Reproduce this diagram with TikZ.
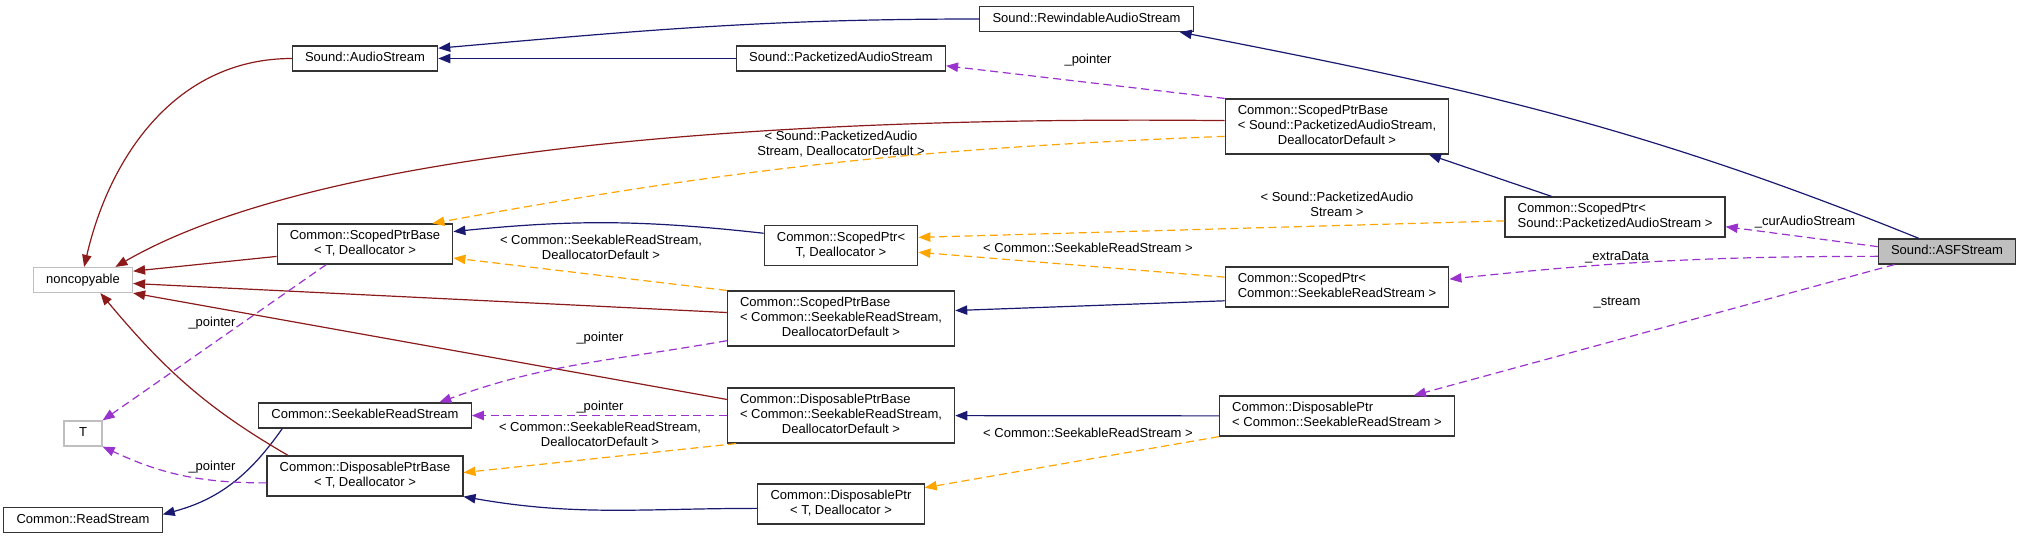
\documentclass[tikz,border=0pt]{standalone}
\usepackage{fontspec}
\setmainfont{Liberation Sans}
\usetikzlibrary{arrows.meta}
\definecolor{bleuNuit}{HTML}{191970}
\definecolor{rougeBrique}{HTML}{8B1A1A}
\definecolor{orchidee}{HTML}{9A32CD}
\definecolor{orangeGabarit}{HTML}{FFA500}
\definecolor{grisClair}{HTML}{BFBFBF}
\newcommand{\classe}[1]{\begin{tabular}{@{}l@{}}#1\end{tabular}}
\newcommand{\derniere}[1]{\multicolumn{1}{@{}c@{}}{#1}}
\begin{document}
\begin{tikzpicture}[x=0.75pt,y=-0.75pt]
		\tikzstyle{fleche}=[->,>={Triangle[length=9pt,width=7pt]},line width=0.9pt]
		\tikzstyle{heritage}=[fleche,bleuNuit]
		\tikzstyle{prive}=[fleche,rougeBrique]
		\tikzstyle{usage}=[fleche,orchidee,dash pattern=on 6pt off 3.5pt]
		\tikzstyle{gabarit}=[fleche,orangeGabarit,dash pattern=on 6pt off 3.5pt]
		\tikzstyle{noeud}=[draw=black!80,line width=0.9pt,fill=white,inner xsep=9.5pt,inner ysep=3.75pt,font=\fontsize{9.75}{11.25}\selectfont]
		\tikzstyle{externe}=[noeud,draw=grisClair]
		\tikzstyle{courant}=[noeud,fill=grisClair]
		\tikzstyle{etiquette}=[align=center,inner sep=0pt,text=black,font=\fontsize{9.75}{11.25}\selectfont]
		\def\RangA{83}
		\def\RangB{365}
		\def\RangC{841}
		\def\RangD{1337}
		\def\RangE{1615}
		\def\RangF{1947}
		\useasboundingbox (0,0) rectangle (2020,539);
		\node[noeud] (rewind) at (1086.5,19) {\classe{Sound::RewindableAudioStream}};
		\node[noeud] (audio) at (\RangB,58.5) {\classe{Sound::AudioStream}};
		\node[noeud] (packet) at (\RangC,58.5) {\classe{Sound::PacketizedAudioStream}};
		\node[noeud] (spbPacket) at (\RangD,126.5) {\classe{Common::ScopedPtrBase\\< Sound::PacketizedAudioStream,\\\derniere{DeallocatorDefault >}}};
		\node[noeud] (spbT) at (\RangB,244) {\classe{Common::ScopedPtrBase\\\derniere{< T, Deallocator >}}};
		\node[externe] (noncopy) at (\RangA,280) {\classe{noncopyable}};
		\node[noeud] (spT) at (\RangC,245.5) {\classe{Common::ScopedPtr<\\\derniere{T, Deallocator >}}};
		\node[noeud] (spPacket) at (\RangE,217) {\classe{Common::ScopedPtr<\\\derniere{Sound::PacketizedAudioStream >}}};
		\node[courant] (asf) at (\RangF,251.5) {\classe{Sound::ASFStream}};
		\node[noeud] (spSeek) at (\RangD,287) {\classe{Common::ScopedPtr<\\\derniere{Common::SeekableReadStream >}}};
		\node[noeud] (spbSeek) at (\RangC,318.5) {\classe{Common::ScopedPtrBase\\< Common::SeekableReadStream,\\\derniere{DeallocatorDefault >}}};
		\node[noeud] (srs) at (\RangB,415.5) {\classe{Common::SeekableReadStream}};
		\node[externe,minimum width=28.5pt] (T) at (\RangA,433.5) {\classe{T}};
		\node[noeud] (dpbSeek) at (\RangC,415.5) {\classe{Common::DisposablePtrBase\\< Common::SeekableReadStream,\\\derniere{DeallocatorDefault >}}};
		\node[noeud] (dpSeek) at (\RangD,416) {\classe{Common::DisposablePtr\\\derniere{< Common::SeekableReadStream >}}};
		\node[noeud] (dpbT) at (\RangB,476) {\classe{Common::DisposablePtrBase\\\derniere{< T, Deallocator >}}};
		\node[noeud] (rs) at (\RangA,520) {\classe{Common::ReadStream}};
		\node[noeud] (dpT) at (\RangC,504) {\classe{Common::DisposablePtr\\\derniere{< T, Deallocator >}}};
		% heritage public
		\draw[heritage] (rewind.west) to[out=180,in=5] (audio.8);
		\draw[heritage] (packet) -- (audio);
		\draw[heritage] (asf.155) to[out=158,in=-11] (rewind.-8);
		\draw[heritage] (spPacket.162) -- (spbPacket.-17);
		\draw[heritage] (spT.171) to[bend right=6] (spbT.8);
		\draw[heritage] (spSeek.187) -- (spbSeek.4);
		\draw[heritage] (dpSeek) -- (dpbSeek);
		\draw[heritage] (dpT.183) to[out=180,in=-10] (dpbT.south east);
		\draw[heritage] (srs.189) to[out=235,in=15] (rs.4);
		% heritage prive
		\draw[prive] (audio.west) to[out=180,in=77] (noncopy.85);
		\draw[prive] (spbPacket.177) .. controls (700,115) and (300,160) .. (noncopy.22);
		\draw[prive] (spbT.188) -- (noncopy.10);
		\draw[prive] (spbSeek.177) -- (noncopy.-4);
		\draw[prive] (dpbSeek.172) -- (noncopy.south east);
		\draw[prive] (dpbT.165) to[out=150,in=-50] (noncopy.-37);
		% usage
		\draw[usage] (spbPacket.north west) -- (packet.-4) node[etiquette] at (1088,60) {\_pointer};
		\draw[usage] (spbT.208) -- (T.north east) node[etiquette] at (212,323) {\_pointer};
		\draw[usage] (spbSeek.191) to[out=190,in=20] (srs.10) node[etiquette] at (600,338) {\_pointer};
		\draw[usage] (dpbSeek) -- (srs) node[etiquette] at (600,407) {\_pointer};
		\draw[usage] (dpbT.184) to[out=180,in=-25] (T.south east) node[etiquette] at (212,467) {\_pointer};
		\draw[usage] (asf.176) -- (spPacket.-5) node[etiquette] at (1805,222) {\_curAudioStream};
		\draw[usage] (asf.184) to[bend right=3] (spSeek.4) node[etiquette] at (1617,257) {\_extraData};
		\draw[usage] (asf.194) -- (dpSeek.15) node[etiquette] at (1617,303) {\_stream};
		% instances de gabarit
		\draw[gabarit] (spbPacket.185) to[bend right=4] (spbT.17) node[etiquette] at (841,144.5) {< Sound::PacketizedAudio\\Stream, DeallocatorDefault >};
		\draw[gabarit] (spbSeek.north west) -- (spbT.-9) node[etiquette] at (601,247) {< Common::SeekableReadStream,\\DeallocatorDefault >};
		\draw[gabarit] (spPacket.182) -- (spT.6) node[etiquette] at (1337,204.5) {< Sound::PacketizedAudio\\Stream >};
		\draw[gabarit] (spSeek.175) -- (spT.-5) node[etiquette] at (1088,248) {< Common::SeekableReadStream >};
		\draw[gabarit] (dpbSeek.195) -- (dpbT.2) node[etiquette] at (600,434.5) {< Common::SeekableReadStream,\\DeallocatorDefault >};
		\draw[gabarit] (dpSeek.south west) -- (dpT.11) node[etiquette] at (1088,433) {< Common::SeekableReadStream >};
	\end{tikzpicture}
\end{document}
